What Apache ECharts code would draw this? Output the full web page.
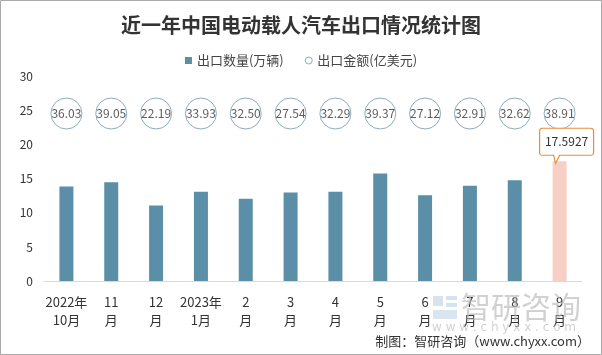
<!DOCTYPE html>
<html><head><meta charset="utf-8">
<script src="https://cdn.jsdelivr.net/npm/echarts@6/dist/echarts.min.js"></script>
<style>html,body{margin:0;padding:0;background:#fff}#c{width:602px;height:355px}</style>
</head><body><div id="c"></div>
<script>
const months = ['2022年\n10月','11\n月','12\n月','2023年\n1月','2\n月','3\n月','4\n月','5\n月','6\n月','7\n月','8\n月','9\n月'];
const quantity = [13.9, 14.5, 11.1, 13.1, 12.1, 13.0, 13.1, 15.8, 12.6, 14.0, 14.8, 17.5927];
const amount = [36.03, 39.05, 22.19, 33.93, 32.50, 27.54, 32.29, 39.37, 27.12, 32.91, 32.62, 38.91];
const yTicks = [0, 5, 10, 15, 20, 25, 30];

const FONT = '"Noto Sans CJK SC", "Noto Sans", sans-serif';
const BAR = '#5b8fa7';
const chart = echarts.init(document.getElementById('c'), null, {renderer: 'canvas'});
const lastIdx = quantity.length - 1;

chart.setOption({
  animation: false,
  backgroundColor: '#fff',
  textStyle: {fontFamily: FONT},
  title: {
    text: '近一年中国电动载人汽车出口情况统计图',
    left: 'center', top: 10,
    textStyle: {fontSize: 20, fontWeight: 'bold', color: '#333', fontFamily: FONT}
  },
  legend: {
    top: 49, left: 'center',
    itemWidth: 7, itemHeight: 7, itemGap: 21,
    textStyle: {fontSize: 13, color: '#444', fontFamily: FONT},
    data: [
      {name: '出口数量(万辆)', icon: 'rect', itemStyle: {color: BAR}},
      {name: '出口金额(亿美元)', icon: 'circle', itemStyle: {color: '#fff', borderColor: '#6c97ae', borderWidth: 1}}
    ]
  },
  grid: [
    {left: 44, right: 20, top: 76.8, bottom: 74},
    {left: 44, right: 20, top: 98, height: 31}
  ],
  xAxis: [
    {
      type: 'category', gridIndex: 0, data: months,
      axisLine: {lineStyle: {color: '#d9d9d9'}},
      axisTick: {show: false},
      axisLabel: {color: '#333', fontSize: 13, lineHeight: 18, margin: 12, interval: 0, fontFamily: FONT}
    },
    {type: 'category', gridIndex: 1, data: months, show: false}
  ],
  yAxis: [
    {
      type: 'value', gridIndex: 0, min: yTicks[0], max: yTicks[yTicks.length - 1], interval: 5,
      axisLine: {show: false}, axisTick: {show: false}, splitLine: {show: false},
      axisLabel: {color: '#333', fontSize: 12, margin: 11, fontFamily: FONT}
    },
    {type: 'category', gridIndex: 1, data: ['金额'], show: false}
  ],
  series: [
    {
      name: '出口数量(万辆)', type: 'bar', xAxisIndex: 0, yAxisIndex: 0, barWidth: 14,
      itemStyle: {color: BAR},
      data: quantity.map((v, i) => i === lastIdx ? {value: v, itemStyle: {color: '#f8cfc5'}} : v),
      markPoint: {
        data: [{type: 'max'}],
        symbol: 'path://M3,0 L51,0 Q54,0 54,3 L54,24 Q54,27 51,27 L20,27 L16,35 L14,27 L3,27 Q0,27 0,24 L0,3 Q0,0 3,0 Z',
        symbolSize: [54, 35],
        symbolOffset: [7, -15.5],
        itemStyle: {color: '#fff', borderColor: '#e8913a', borderWidth: 1},
        label: {show: true, position: 'inside', offset: [0, -4], color: '#333', fontSize: 12, fontFamily: FONT, formatter: '{c}'}
      }
    },
    {
      name: '出口金额(亿美元)', type: 'scatter', xAxisIndex: 1, yAxisIndex: 1,
      symbol: 'circle', symbolSize: 31,
      itemStyle: {color: '#fff', borderColor: '#6c97ae', borderWidth: 1},
      label: {show: true, position: 'inside', color: '#333', fontSize: 12, fontFamily: FONT,
        formatter: p => p.value[2].toFixed(2)},
      data: amount.map((v, i) => [months[i], '金额', v])
    }
  ],
  graphic: [
    {type: 'rect', shape: {x: 0.5, y: 0.5, width: 601, height: 354}, style: {fill: 'none', stroke: '#aaa', lineWidth: 1}, z: 100},
    {type: 'rect', shape: {x: 433, y: 296, width: 10, height: 10}, style: {fill: 'rgba(180,200,220,0.5)'}, z: 1},
    {type: 'rect', shape: {x: 446, y: 296, width: 11, height: 4}, style: {fill: 'rgba(170,200,225,0.5)'}, z: 1},
    {type: 'rect', shape: {x: 446, y: 303, width: 11, height: 4}, style: {fill: 'rgba(170,200,225,0.5)'}, z: 1},
    {type: 'rect', shape: {x: 433, y: 310, width: 24, height: 9}, style: {fill: 'rgba(180,205,225,0.5)'}, z: 1},
    {type: 'text', x: 461, y: 292, style: {text: '智研咨询', fill: 'rgba(185,185,185,0.65)', font: '30px "Noto Sans CJK SC"'}, z: 1},
    {type: 'text', x: 432, y: 322, style: {text: 'w w w . c h y x x . c o m', fill: 'rgba(185,185,185,0.65)', font: '12px "DejaVu Sans"'}, z: 1},
    {type: 'text', right: 12, top: 335, style: {text: '制图：智研咨询（www.chyxx.com）', fill: '#333', font: '13px "Noto Sans CJK SC"'}, z: 10}
  ]
});
</script></body></html>
